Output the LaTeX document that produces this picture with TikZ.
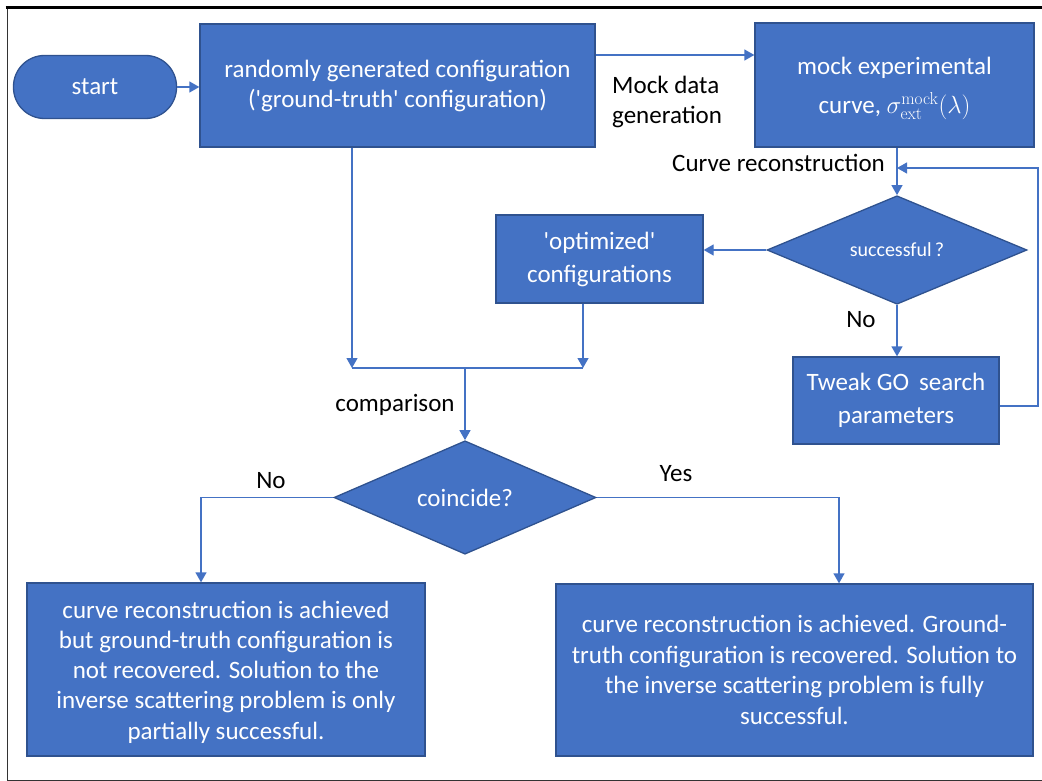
\documentclass[tikz,border=0pt]{standalone}
\usepackage[no-math]{fontspec}
\setmainfont{Carlito}
\usetikzlibrary{shapes.geometric,arrows.meta}
\definecolor{obl}{HTML}{4472C4}
\definecolor{obd}{HTML}{2F528F}
\definecolor{frm}{HTML}{333333}
\begin{document}
\begin{tikzpicture}[x=1pt,y=-1pt,
  every node/.style={font=\fontsize{25}{30}\selectfont},
  blk/.style={draw=obd, line width=1.3pt, fill=obl, text=white, inner sep=0pt, align=center},
  boxn/.style={blk, rectangle},
  dia/.style={blk, diamond},
  lbl/.style={inner sep=0pt, text=black},
  conn/.style={draw=obl, line width=1.3pt},
  arr/.style={conn, -{Triangle[width=11pt,length=10pt]}},
]
\useasboundingbox (0,0) rectangle (1042,781);
% frame
\draw[frm, line width=1pt] (7,7.5) -- (7,780) -- (1042,780);
\draw[black, line width=2.7pt] (5.7,7.5) -- (1042,7.5);

% nodes
\node[blk, rectangle, rounded corners=31pt, minimum width=163pt, minimum height=63pt] (start) at (95,87) {start};
\node[boxn, minimum width=395pt, minimum height=123pt] (box1) at (397.5,85.5)
  {randomly generated configuration\\(\textquotesingle ground-truth\textquotesingle\ configuration)};
\node[boxn, minimum width=279pt, minimum height=124pt] (box2) at (894.5,85)
  {};
\node[text=white, inner sep=0pt, align=center] (box2t) at (894.5,88)
  {mock experimental\\[9pt] curve, $\sigma_{\mathrm{ext}}^{\mathrm{mock}}(\lambda)$};
\node[dia, minimum width=260pt, minimum height=96pt, font=\fontsize{20}{24}\selectfont] (succ) at (897,250) {successful\,?};
\node[boxn, minimum width=207pt, minimum height=88pt, font=\fontsize{25}{33}\selectfont] (opt) at (599.5,259)
  {\textquotesingle optimized\textquotesingle\\configurations};
\node[boxn, minimum width=206pt, minimum height=87pt, font=\fontsize{25}{33}\selectfont] (tweak) at (896,400.5)
  {Tweak GO\, search\\parameters};
\node[dia, minimum width=262pt, minimum height=99pt] (coin) at (465,497.5) {coincide?};
\node[boxn, minimum width=398pt, minimum height=173pt] (nobox) at (226,669.5) {};
\node[text=white, inner sep=0pt, align=center, font=\fontsize{25}{30.2}\selectfont] (nobt) at (226,672)
  {curve reconstruction is achieved\\but ground-truth configuration is\\not recovered. Solution to the\\inverse scattering problem is only\\partially successful.};
\node[boxn, minimum width=477pt, minimum height=172pt, font=\fontsize{25}{30.7}\selectfont] (yesbox) at (794.5,670)
  {curve reconstruction is achieved. Ground-\\truth configuration is recovered. Solution to\\the inverse scattering problem is fully\\successful.};

% junction coordinates
\coordinate (j1) at (352,368);
\coordinate (j2) at (583,368);
\coordinate (jc) at (465,368);
\coordinate (fb) at (897,168);
\coordinate (fbr) at (1038,168);

% connectors
\draw[arr] (start.east) -- (start.east -| box1.west);
\draw[arr] ([yshift=30.5pt]box1.east) -- ([yshift=30.5pt]box1.east -| box2.west);
\draw[arr] (box2.south -| succ.north) -- (succ.north);
\draw[arr] (succ.west) -- (succ.west -| opt.east);
\draw[arr] (succ.south) -- (succ.south |- tweak.north);
\draw[arr] ([yshift=-5.5pt]tweak.east) -| (fbr) -- (fb);
\draw[arr] (box1.south -| j1) -- (j1);
\draw[arr] (opt.south -| j2) -- (j2);
\draw[conn] (j1) -- (j2);
\draw[arr] (jc) -- (coin.north);
\draw[arr] (coin.west) -| ([xshift=-25pt]nobox.north);
\draw[arr] (coin.east) -| ([xshift=44.5pt]yesbox.north);

% labels
\node[lbl, anchor=west, align=left] (lmock) at (612,102) {Mock data\\generation};
\node[lbl, anchor=east] (lcurve) at (885,163) {Curve reconstruction};
\node[lbl] (lno1) at (861,320) {No};
\node[lbl] (lcomp) at (395,405) {comparison};
\node[lbl] (lno2) at (271,481) {No};
\node[lbl] (lyes) at (676,474) {Yes};
\end{tikzpicture}
\end{document}
